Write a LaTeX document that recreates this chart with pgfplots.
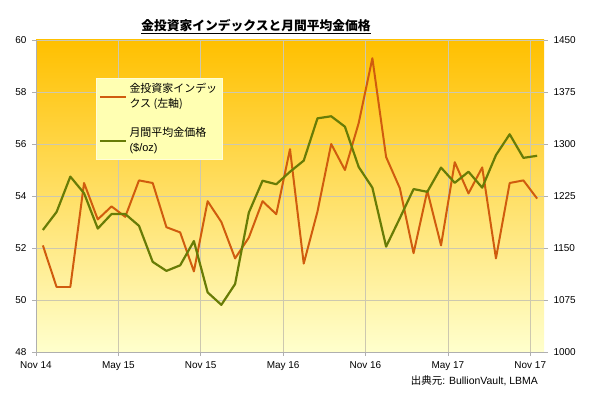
\documentclass[border=0pt]{standalone}
\usepackage{pgfplots}
\pgfplotsset{compat=1.18}
\usepackage{pgfplotstable}
\usepackage{fontspec}
\setmainfont{Liberation Sans}
\newfontfamily\cjk{Noto Sans CJK JP}
\definecolor{orangeline}{RGB}{208,92,14}
\definecolor{greenline}{RGB}{104,124,6}
\definecolor{bgtop}{RGB}{255,192,0}
\definecolor{bgmid}{RGB}{255,246,100}
\definecolor{bgbot}{RGB}{255,255,205}
\definecolor{legfill}{RGB}{255,255,178}
\definecolor{gridc}{RGB}{205,200,175}
\definecolor{axc}{RGB}{175,175,175}

\pgfplotstableread{
x y
0.5 52.1
1.5 50.5
2.5 50.5
3.5 54.5
4.5 53.1
5.5 53.6
6.5 53.2
7.5 54.6
8.5 54.5
9.5 52.8
10.5 52.6
11.5 51.1
12.5 53.8
13.5 53.0
14.5 51.6
15.5 52.4
16.5 53.8
17.5 53.3
18.5 55.8
19.5 51.4
20.5 53.4
21.5 56.0
22.5 55.0
23.5 56.8
24.5 59.3
25.5 55.5
26.5 54.3
27.5 51.8
28.5 54.2
29.5 52.1
30.5 55.3
31.5 54.1
32.5 55.1
33.5 51.6
34.5 54.5
35.5 54.6
36.5 53.9
}\investor

\pgfplotstableread{
x y
0.5 1176
1.5 1202
2.5 1253
3.5 1229
4.5 1178
5.5 1199
6.5 1199
7.5 1182
8.5 1130
9.5 1117
10.5 1125
11.5 1160
12.5 1086
13.5 1068
14.5 1098
15.5 1201
16.5 1247
17.5 1242
18.5 1260
19.5 1276
20.5 1337
21.5 1340
22.5 1325
23.5 1267
24.5 1237
25.5 1152
26.5 1193
27.5 1235
28.5 1231
29.5 1266
30.5 1244
31.5 1260
32.5 1237
33.5 1284
34.5 1314
35.5 1280
36.5 1283
}\gold

\begin{document}
\begin{tikzpicture}
\useasboundingbox (0,0) rectangle (595bp,398bp);
\pgfplotsset{
  common/.style={
    at={(36bp,46bp)}, anchor=south west,
    scale only axis, width=508bp, height=312bp,
    xmin=0, xmax=37,
    tick align=outside,
    major tick length=4bp,
    tick style={color=axc, line width=0.6pt},
    /pgf/number format/assume math mode=true,
    ticklabel style={font=\fontsize{10}{12}\selectfont, text=black},
  }
}
\begin{axis}[common,
  axis y line*=left, axis x line*=bottom,
  axis line style={color=axc, line width=0.6pt, -},
  ymin=48, ymax=60, ytick={48,50,...,60},
  yticklabel style={xshift=-2bp},
  xtick={0,6,...,36},
  xticklabels={Nov 14,May 15,Nov 15,May 16,Nov 16,May 17,Nov 17},
  xticklabel style={yshift=-2bp},
  grid=major,
  major grid style={color=gridc, line width=0.6pt},
  axis background/.style={top color=bgtop, middle color=bgmid, bottom color=bgbot},
]
\addplot[orangeline, line width=2pt, line join=round] table[x=x,y=y] {\investor};
\end{axis}
\begin{axis}[common,
  axis y line*=right, axis x line=none,
  y axis line style={draw opacity=0},
  ymin=1000, ymax=1450, ytick={1000,1075,...,1450},
  yticklabel style={xshift=2bp, /pgf/number format/.cd, 1000 sep={}},
  legend style={at={(rel axis cs:0.118,0.878)}, anchor=north west,
    fill=legfill, draw=white!85!yellow, line width=0.8pt,
    inner xsep=3bp, inner ysep=3bp,
    row sep=14bp,
    nodes={text depth=17bp},
    font=\fontsize{11}{15}\selectfont},
  legend cell align=left,
  legend image code/.code={\draw[#1] (0bp,0bp) -- (26bp,0bp);},
]
\addlegendimage{orangeline, line width=2pt}
\addlegendentry{\parbox[t]{88bp}{\cjk 金投資家インデッ\\クス (左軸)}}
\addplot[greenline, line width=2.2pt, line join=round] table[x=x,y=y] {\gold};
\addlegendentry{\parbox[t]{88bp}{\cjk 月間平均金価格\\\fontspec{Liberation Sans}(\$/oz)}}
\end{axis}
\node[font=\cjk\bfseries\fontsize{12.8}{15}\selectfont] at (256bp,371.5bp) {\underline{金投資家インデックスと月間平均金価格}};
\node[anchor=east, font=\fontsize{10.5}{12}\selectfont, inner sep=0pt] at (538bp,17bp) {{\cjk 出典元}: BullionVault, LBMA};
\end{tikzpicture}
\end{document}
